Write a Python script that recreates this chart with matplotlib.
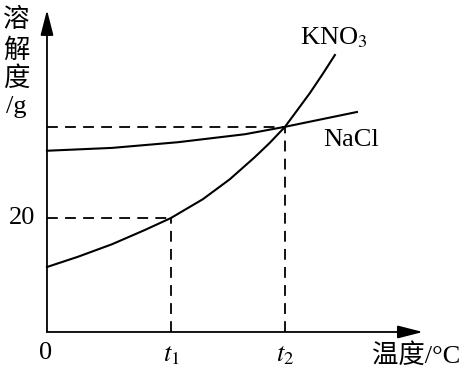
import matplotlib
matplotlib.use("Agg")
import matplotlib.pyplot as plt

plt.rcParams['font.family'] = ['Liberation Serif', 'Noto Sans CJK SC']
plt.rcParams['mathtext.fontset'] = 'stix'

# curves (temperature in arbitrary units, solubility in g)
kno3_temp = [0, 10.0, 21.0, 31.6, 40.0, 50.3, 59.0, 67.1, 71.9, 76.8, 80.6, 84.8, 89.0, 92.9]
kno3_sol = [11.4, 13.2, 15.4, 17.9, 20.0, 23.3, 26.8, 30.7, 33.2, 36.0, 38.8, 41.9, 45.3, 48.6]

nacl_temp = [0, 21.0, 42.3, 63.9, 76.8, 100.0]
nacl_sol = [31.8, 32.3, 33.3, 34.7, 36.0, 38.6]

t1, t2 = 40.0, 76.8
sol_t1, sol_t2 = 20.0, 36.0

x_max, y_max = 121.3, 56.5

fig = plt.figure(figsize=(4.66, 3.70), dpi=100)
ax = fig.add_axes([0, 0, 1, 1])
ax.set_xlim(-15.16, 135.2)
ax.set_ylim(-6.67, 58.25)
ax.axis('off')

# axes with arrows
arrow = dict(arrowstyle='-|>,head_length=1.1,head_width=0.28', lw=1.3, color='black',
             shrinkA=0, shrinkB=0, mutation_scale=14)
ax.annotate('', xy=(0, y_max), xytext=(0, 0), arrowprops=arrow)
ax.annotate('', xy=(x_max, 0), xytext=(0, 0), arrowprops=arrow)

# curves
ax.plot(kno3_temp, kno3_sol, color='black', lw=1.5, solid_joinstyle='round')
ax.plot(nacl_temp, nacl_sol, color='black', lw=1.5, solid_joinstyle='round')

# guide lines
dash = dict(color='black', lw=1.3, dashes=(6, 4))
ax.plot([0, t1], [sol_t1, sol_t1], **dash)
ax.plot([t1, t1], [0, sol_t1], **dash)
ax.plot([0, t2], [sol_t2, sol_t2], **dash)
ax.plot([t2, t2], [0, sol_t2], **dash)

fs = 19
ax.text(-0.3, -3.6, '0', fontsize=fs, ha='center', va='center')
ax.text(-8.1, sol_t1, '20', fontsize=fs, ha='center', va='center')
ax.text(t1, -4.1, '$t_1$', fontsize=fs, ha='center', va='center')
ax.text(t2, -4.1, '$t_2$', fontsize=fs, ha='center', va='center')
ax.text(119.0, -4.1, '温度/°C', fontsize=fs, ha='center', va='center')
for label, yy in zip(['溶', '解', '度', '/g'], [54.7, 49.4, 44.4, 39.4]):
    ax.text(-9.8, yy, label, fontsize=fs, ha='center', va='center')
ax.text(81.6, 51.6, 'KNO$_3$', fontsize=fs, ha='left', va='center')
ax.text(89.0, 33.7, 'NaCl', fontsize=fs, ha='left', va='center')

fig.savefig('out.png', dpi=100)
